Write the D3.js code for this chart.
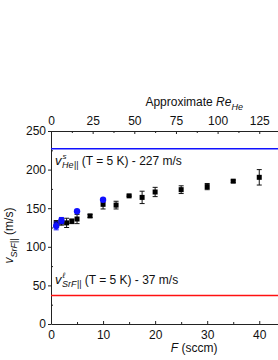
<!DOCTYPE html>
<html>
<head>
<meta charset="utf-8">
<script src="https://cdn.jsdelivr.net/npm/d3@7"></script>
<style>
  body { margin: 0; background: #fff; }
  svg { display: block; font-family: "Liberation Sans", Arial, sans-serif; }
</style>
</head>
<body>
<div id="chart-container"></div>
<script>
// Data
const flowBlack = [1, 2, 3, 4, 5, 7.5, 10, 12.5, 15, 17.5, 20, 25, 30, 35, 40];
const velBlack  = [130, 132, 131, 133, 136, 140, 155, 154, 166, 164, 171, 174, 178, 185, 190];
const errBlack  = [4, 4, 6, 3, 6, 2, 6, 5, 1, 8, 6, 5, 4, 1.5, 10];

const flowBlue = [1, 2, 5, 10];
const velBlue  = [127, 134, 146, 161];
const errBlue  = [5, 4, 0, 0];

const heliumVel = 227;   // v^s_He||
const srfVel = 37;       // v^l_SrF||
const rePerSccm = 3.125; // approximate Re_He per sccm

const xTicks = [0, 10, 20, 30, 40];
const xMinor = [5, 15, 25, 35];
const yTicks = [0, 50, 100, 150, 200, 250];
const yMinor = [25, 75, 125, 175, 225];
const reTicks = [0, 25, 50, 75, 100, 125];
const reMinor = [12.5, 37.5, 62.5, 87.5, 112.5];

// Set dimensions and margins
const W = 278, H = 360;
const margin = { top: 131, right: 0, bottom: 36, left: 51 };
const width = W - margin.left - margin.right;
const height = H - margin.top - margin.bottom;

const x = d3.scaleLinear().domain([0, 43.6]).range([0, width]);
const y = d3.scaleLinear().domain([0, 250]).range([height, 0]);
const xRe = x.copy().domain(x.domain().map(d => d * rePerSccm));

const svg = d3.select("#chart-container")
    .append("svg")
    .attr("width", W)
    .attr("height", H)
    .append("g")
    .attr("transform", `translate(${margin.left},${margin.top})`);

const axisColor = "#222";

// Axes
const styleAxis = g => {
    g.select(".domain").attr("stroke", axisColor).attr("stroke-width", 1);
    g.selectAll(".tick line").attr("stroke", axisColor);
    g.selectAll(".tick text").attr("fill", "#111").style("font-size", "12px")
        .style("font-family", "'Liberation Sans', Arial, sans-serif");
};

// bottom
svg.append("g")
    .attr("transform", `translate(0,${height})`)
    .call(d3.axisBottom(x).tickValues(xTicks).tickSizeInner(-3).tickSizeOuter(0).tickPadding(6))
    .call(styleAxis);
svg.append("g")
    .attr("transform", `translate(0,${height})`)
    .call(d3.axisBottom(x).tickValues(xMinor).tickSize(-2).tickFormat(""))
    .call(g => g.select(".domain").remove())
    .call(styleAxis);

// top
svg.append("g")
    .call(d3.axisTop(xRe).tickValues(reTicks).tickSizeInner(-3).tickSizeOuter(0).tickPadding(6))
    .call(styleAxis);
svg.append("g")
    .call(d3.axisTop(xRe).tickValues(reMinor).tickSize(-2).tickFormat(""))
    .call(g => g.select(".domain").remove())
    .call(styleAxis);

// left
svg.append("g")
    .call(d3.axisLeft(y).tickValues(yTicks).tickSizeInner(3).tickSizeOuter(0).tickPadding(2))
    .call(styleAxis);
svg.append("g")
    .call(d3.axisLeft(y).tickValues(yMinor).tickSize(-2).tickFormat(""))
    .call(g => g.select(".domain").remove())
    .call(styleAxis);

// Reference lines
svg.append("line")
    .attr("x1", 0).attr("x2", width)
    .attr("y1", y(heliumVel)).attr("y2", y(heliumVel))
    .attr("stroke", "#1010ff").attr("stroke-width", 1.6);

svg.append("line")
    .attr("x1", 0).attr("x2", width)
    .attr("y1", y(srfVel)).attr("y2", y(srfVel))
    .attr("stroke", "#ff1010").attr("stroke-width", 1.6);

// Annotations: v with stacked super/subscript, then the rest of the label
function annotate(ty, sup, sub, rest) {
    const g = svg.append("g").attr("fill", "#111");
    const v = g.append("text").attr("x", 4).attr("y", ty)
        .style("font-size", "13px").style("font-style", "italic").text("v");
    const vx = 4 + v.node().getComputedTextLength() + 0.5;
    g.append("text").attr("x", vx + 0.5).attr("y", ty - 6)
        .style("font-size", "8px").style("font-style", "italic").text(sup);
    const s = g.append("text").attr("x", vx).attr("y", ty + 3)
        .style("font-size", "9px").style("font-style", "italic").text(sub);
    const sx = vx + s.node().getComputedTextLength() + 0.5;
    const bars = g.append("text").attr("x", sx).attr("y", ty + 3)
        .style("font-size", "9px").text("||");
    const bx = sx + bars.node().getComputedTextLength() + 3;
    g.append("text").attr("x", bx).attr("y", ty)
        .style("font-size", "12px").text(rest);
}
annotate(y(heliumVel) + 16, "s", "He", "(T = 5 K) - 227 m/s");
annotate(y(srfVel) - 11, "\u2113", "SrF", "(T = 5 K) - 37 m/s");

// Error bars
function errorBars(fx, vy, ey, color) {
    const idx = d3.range(fx.length).filter(i => ey[i] > 0);
    const g = svg.append("g").attr("stroke", color).attr("stroke-width", 1);
    g.selectAll(".v").data(idx).join("line")
        .attr("x1", i => x(fx[i])).attr("x2", i => x(fx[i]))
        .attr("y1", i => y(vy[i] - ey[i])).attr("y2", i => y(vy[i] + ey[i]));
    g.selectAll(".lo").data(idx).join("line")
        .attr("x1", i => x(fx[i]) - 2.5).attr("x2", i => x(fx[i]) + 2.5)
        .attr("y1", i => y(vy[i] - ey[i])).attr("y2", i => y(vy[i] - ey[i]));
    g.selectAll(".hi").data(idx).join("line")
        .attr("x1", i => x(fx[i]) - 2.5).attr("x2", i => x(fx[i]) + 2.5)
        .attr("y1", i => y(vy[i] + ey[i])).attr("y2", i => y(vy[i] + ey[i]));
}

errorBars(flowBlack, velBlack, errBlack, "#111");
svg.append("g").selectAll("rect")
    .data(d3.range(flowBlack.length))
    .join("rect")
    .attr("x", i => x(flowBlack[i]) - 2.5)
    .attr("y", i => y(velBlack[i]) - 2.5)
    .attr("width", 5).attr("height", 5)
    .attr("fill", "#000");

errorBars(flowBlue, velBlue, errBlue, "#1010ff");
svg.append("g").selectAll("circle")
    .data(d3.range(flowBlue.length))
    .join("circle")
    .attr("cx", i => x(flowBlue[i]))
    .attr("cy", i => y(velBlue[i]))
    .attr("r", 3.2)
    .attr("fill", "#1010ff");

// Axis titles
const xt = svg.append("text")
    .attr("x", x(27.5)).attr("y", height + 28)
    .attr("text-anchor", "middle")
    .style("font-size", "12px").attr("fill", "#111");
xt.append("tspan").style("font-style", "italic").text("F");
xt.append("tspan").text(" (sccm)");

const tt = svg.append("text")
    .attr("x", x(27.5)).attr("y", -25)
    .attr("text-anchor", "middle")
    .style("font-size", "12px").attr("fill", "#111");
tt.append("tspan").text("Approximate ");
tt.append("tspan").style("font-style", "italic").text("Re");
tt.append("tspan").style("font-style", "italic").style("font-size", "9px").attr("dy", 4).text("He");

const yt = svg.append("text")
    .attr("transform", `translate(${-38},${height / 2 + 8}) rotate(-90)`)
    .attr("text-anchor", "middle")
    .style("font-size", "12px").attr("fill", "#111");
yt.append("tspan").style("font-style", "italic").text("v");
yt.append("tspan").style("font-style", "italic").style("font-size", "9px").attr("dy", 4).text("SrF");
yt.append("tspan").style("font-size", "9px").text("||");
yt.append("tspan").attr("dy", -4).text(" (m/s)");
</script>
</body>
</html>
